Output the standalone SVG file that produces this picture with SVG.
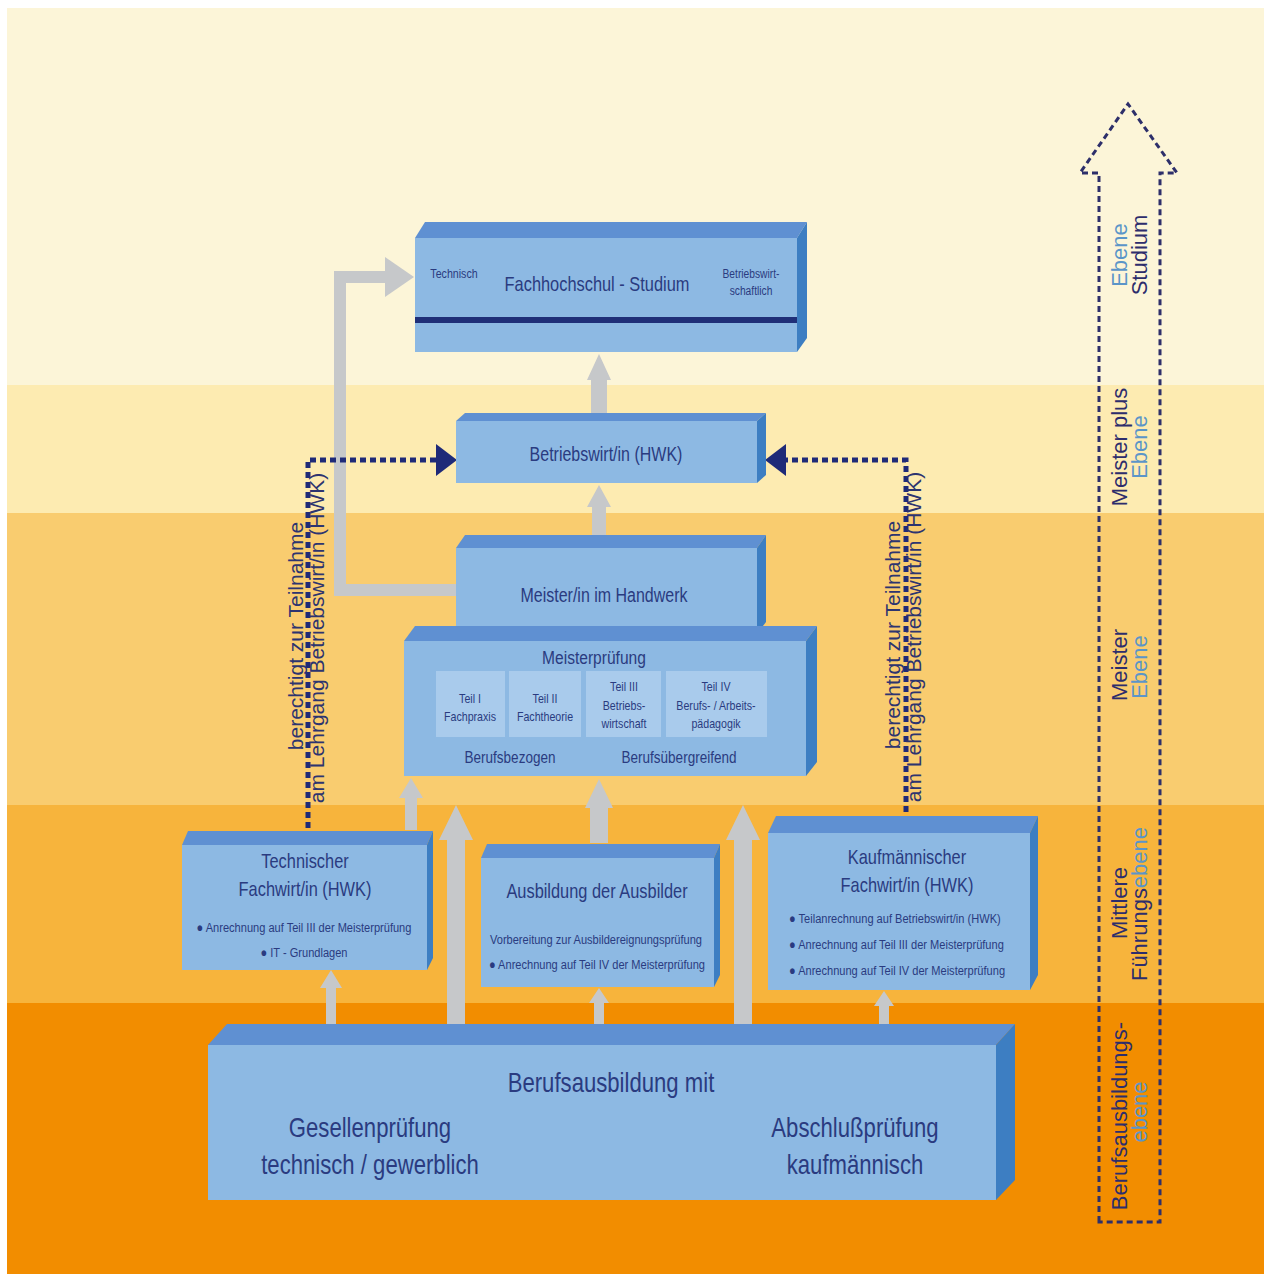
<svg xmlns="http://www.w3.org/2000/svg" width="1264" height="1274" viewBox="0 0 1264 1274">
<style>
.front{fill:#8db9e3}
.top{fill:#5f90d2}
.side{fill:#3d7ec2}
.sub{fill:#a9cbec}
.t{font-family:"Liberation Sans",Arial,sans-serif;fill:#2a3b80;text-anchor:middle}
.s{text-anchor:start}
.rt{font-family:"Liberation Sans",Arial,sans-serif;font-size:21px;fill:#2d3470;text-anchor:middle}
.lab{font-family:"Liberation Sans",Arial,sans-serif;font-size:22px;fill:#2d2d6c;text-anchor:middle}
.blue{fill:#5b95c8}
.gray{fill:#c6c8ca}
.gline{fill:none;stroke:#c6c8ca;stroke-width:12}
.dot{fill:none;stroke:#1f2a78;stroke-width:5;stroke-dasharray:6 4}
.head{fill:#1f2a78}
.big{fill:none;stroke:#2d2f6a;stroke-width:3;stroke-dasharray:6 4}
</style>
<rect x="0" y="0" width="1264" height="1274" fill="#ffffff"/>
<g id="bands">
<rect x="7" y="8" width="1257" height="378" fill="#fcf5d8"/>
<rect x="7" y="385" width="1257" height="129" fill="#fdebb1"/>
<rect x="7" y="513" width="1257" height="293" fill="#f9cc6f"/>
<rect x="7" y="805" width="1257" height="199" fill="#f7b43c"/>
<rect x="7" y="1003" width="1257" height="271" fill="#f28d00"/>
</g>
<g id="connectors">
<polyline class="gline" points="456,590 340,590 340,277 392,277"/>
<polygon class="gray" points="385,257 414,277 385,297"/>
<polygon class="gray" points="326,1024 326,988 320,988 331,970 342,988 336,988 336,1024"/>
<polygon class="gray" points="447,1024 447,840 439,840 456,805 473,840 465,840 465,1024"/>
<polygon class="gray" points="734,1024 734,840 726,840 743,805 760,840 752,840 752,1024"/>
<polygon class="gray" points="594,1024 594,1003 589,1003 599,988 609,1003 604,1003 604,1024"/>
<polygon class="gray" points="879,1024 879,1006 874,1006 884,991 894,1006 889,1006 889,1024"/>
<polygon class="gray" points="405,830 405,798 399,798 411,778 423,798 417,798 417,830"/>
<polygon class="gray" points="590,843 590,808 585,808 599,779 613,808 608,808 608,843"/>
<polygon class="gray" points="592,535 592,507 587,507 599,485 611,507 606,507 606,535"/>
<polygon class="gray" points="591,414 591,380 587,380 599,354 611,380 607,380 607,414"/>
<polyline class="dot" points="308,828 308,460 436,460"/>
<polygon class="head" points="436,444 457,460 436,476"/>
<polyline class="dot" points="906,812 906,460 786,460"/>
<polygon class="head" points="786,444 765,460 786,476"/>
<text class="rt" transform="translate(303,636) rotate(-90)">berechtigt zur Teilnahme</text>
<text class="rt" transform="translate(324,638) rotate(-90)">am Lehrgang Betriebswirt/in (HWK)</text>
<text class="rt" transform="translate(900,635) rotate(-90)">berechtigt zur Teilnahme</text>
<text class="rt" transform="translate(921,637) rotate(-90)">am Lehrgang Betriebswirt/in (HWK)</text>
</g>
<g id="levels">
<path class="big" d="M1099,1222 L1099,173 L1080,173 L1128,104 L1177,173 L1160,173 L1160,1222 Z"/>
<text class="lab" transform="translate(1127,255) rotate(-90)"><tspan class="blue">Ebene</tspan></text>
<text class="lab" transform="translate(1147,255) rotate(-90)">Studium</text>
<text class="lab" transform="translate(1127,447) rotate(-90)">Meister plus</text>
<text class="lab" transform="translate(1147,447) rotate(-90)"><tspan class="blue">Ebene</tspan></text>
<text class="lab" transform="translate(1127,665) rotate(-90)">Meister</text>
<text class="lab" transform="translate(1147,667) rotate(-90)"><tspan class="blue">Ebene</tspan></text>
<text class="lab" transform="translate(1127,903) rotate(-90)">Mittlere</text>
<text class="lab" transform="translate(1147,904) rotate(-90)">Führungs<tspan class="blue">ebene</tspan></text>
<text class="lab" transform="translate(1127,1116) rotate(-90)">Berufsausbildungs-</text>
<text class="lab" transform="translate(1147,1112) rotate(-90)"><tspan class="blue">ebene</tspan></text>
</g>
<g id="fachhochschule">
<polygon class="top" points="415,238 425,222 807,222 797,238"/>
<polygon class="side" points="797,238 807,222 807,338 797,352"/>
<rect class="front" x="415" y="238" width="382" height="114"/>
<rect x="415" y="317" width="382" height="6" fill="#1f2f78"/>
<text class="t" transform="translate(454,278) scale(0.82,1)" font-size="13">Technisch</text>
<text class="t" transform="translate(597,291) scale(0.82,1)" font-size="20">Fachhochschul - Studium</text>
<text class="t" transform="translate(751,278) scale(0.82,1)" font-size="12.5">Betriebswirt-</text>
<text class="t" transform="translate(751,295) scale(0.82,1)" font-size="12.5">schaftlich</text>
</g>
<g id="betriebswirt">
<polygon class="top" points="456,421 465,413 766,413 757,421"/>
<polygon class="side" points="757,421 766,413 766,475 757,483"/>
<rect class="front" x="456" y="421" width="301" height="62"/>
<text class="t" transform="translate(606,461) scale(0.82,1)" font-size="19.5">Betriebswirt/in (HWK)</text>
</g>
<g id="meister">
<polygon class="top" points="456,548 465,535 766,535 757,548"/>
<polygon class="side" points="757,548 766,535 766,622 757,634"/>
<rect class="front" x="456" y="548" width="301" height="86"/>
<text class="t" transform="translate(604,602) scale(0.82,1)" font-size="19.5">Meister/in im Handwerk</text>
</g>
<g id="meisterpruefung">
<polygon class="top" points="404,641 415,626 817,626 806,641"/>
<polygon class="side" points="806,641 817,626 817,762 806,776"/>
<rect class="front" x="404" y="641" width="402" height="135"/>
<text class="t" transform="translate(594,664) scale(0.82,1)" font-size="19">Meisterprüfung</text>
<rect class="sub" x="436" y="671" width="69" height="66"/>
<rect class="sub" x="509" y="671" width="72" height="66"/>
<rect class="sub" x="586" y="671" width="75" height="66"/>
<rect class="sub" x="666" y="671" width="101" height="66"/>
<text class="t" transform="translate(470,703) scale(0.82,1)" font-size="13">Teil I</text>
<text class="t" transform="translate(470,721) scale(0.82,1)" font-size="13">Fachpraxis</text>
<text class="t" transform="translate(545,703) scale(0.82,1)" font-size="13">Teil II</text>
<text class="t" transform="translate(545,721) scale(0.82,1)" font-size="13">Fachtheorie</text>
<text class="t" transform="translate(624,691) scale(0.82,1)" font-size="13">Teil III</text>
<text class="t" transform="translate(624,710) scale(0.82,1)" font-size="13">Betriebs-</text>
<text class="t" transform="translate(624,728) scale(0.82,1)" font-size="13">wirtschaft</text>
<text class="t" transform="translate(716,691) scale(0.82,1)" font-size="13">Teil IV</text>
<text class="t" transform="translate(716,710) scale(0.82,1)" font-size="13">Berufs- / Arbeits-</text>
<text class="t" transform="translate(716,728) scale(0.82,1)" font-size="13">pädagogik</text>
<text class="t" transform="translate(510,763) scale(0.82,1)" font-size="16.5">Berufsbezogen</text>
<text class="t" transform="translate(679,763) scale(0.82,1)" font-size="16.5">Berufsübergreifend</text>
</g>
<g id="technischer">
<polygon class="top" points="182,845 188,831 433,831 427,845"/>
<polygon class="side" points="427,845 433,831 433,958 427,970"/>
<rect class="front" x="182" y="845" width="245" height="125"/>
<text class="t" transform="translate(305,868) scale(0.82,1)" font-size="20">Technischer</text>
<text class="t" transform="translate(305,896) scale(0.82,1)" font-size="20">Fachwirt/in (HWK)</text>
<text class="t" transform="translate(304,932) scale(0.82,1)" font-size="13.5">● Anrechnung auf Teil III der Meisterprüfung</text>
<text class="t" transform="translate(304,957) scale(0.82,1)" font-size="13.5">● IT - Grundlagen</text>
</g>
<g id="ausbildung">
<polygon class="top" points="481,858 487,844 720,844 714,858"/>
<polygon class="side" points="714,858 720,844 720,975 714,987"/>
<rect class="front" x="481" y="858" width="233" height="129"/>
<text class="t" transform="translate(597,898) scale(0.82,1)" font-size="20">Ausbildung der Ausbilder</text>
<text class="t" transform="translate(596,944) scale(0.82,1)" font-size="13.5">Vorbereitung zur Ausbildereignungsprüfung</text>
<text class="t" transform="translate(597,969) scale(0.82,1)" font-size="13.5">● Anrechnung auf Teil IV der Meisterprüfung</text>
</g>
<g id="kaufmaennisch">
<polygon class="top" points="768,833 776,816 1038,816 1030,833"/>
<polygon class="side" points="1030,833 1038,816 1038,975 1030,990"/>
<rect class="front" x="768" y="833" width="262" height="157"/>
<text class="t" transform="translate(907,864) scale(0.82,1)" font-size="20">Kaufmännischer</text>
<text class="t" transform="translate(907,892) scale(0.82,1)" font-size="20">Fachwirt/in (HWK)</text>
<text class="t s" transform="translate(789,923) scale(0.82,1)" font-size="13.5">● Teilanrechnung auf Betriebswirt/in (HWK)</text>
<text class="t s" transform="translate(789,949) scale(0.82,1)" font-size="13.5">● Anrechnung auf Teil III der Meisterprüfung</text>
<text class="t s" transform="translate(789,975) scale(0.82,1)" font-size="13.5">● Anrechnung auf Teil IV der Meisterprüfung</text>
</g>
<g id="berufsausbildung">
<polygon class="top" points="208,1045 227,1024 1015,1024 996,1045"/>
<polygon class="side" points="996,1045 1015,1024 1015,1180 996,1200"/>
<rect class="front" x="208" y="1045" width="788" height="155"/>
<text class="t" transform="translate(611,1092) scale(0.82,1)" font-size="27">Berufsausbildung mit</text>
<text class="t" transform="translate(370,1137) scale(0.82,1)" font-size="27">Gesellenprüfung</text>
<text class="t" transform="translate(370,1174) scale(0.82,1)" font-size="27">technisch / gewerblich</text>
<text class="t" transform="translate(855,1137) scale(0.82,1)" font-size="27">Abschlußprüfung</text>
<text class="t" transform="translate(855,1174) scale(0.82,1)" font-size="27">kaufmännisch</text>
</g>
</svg>
